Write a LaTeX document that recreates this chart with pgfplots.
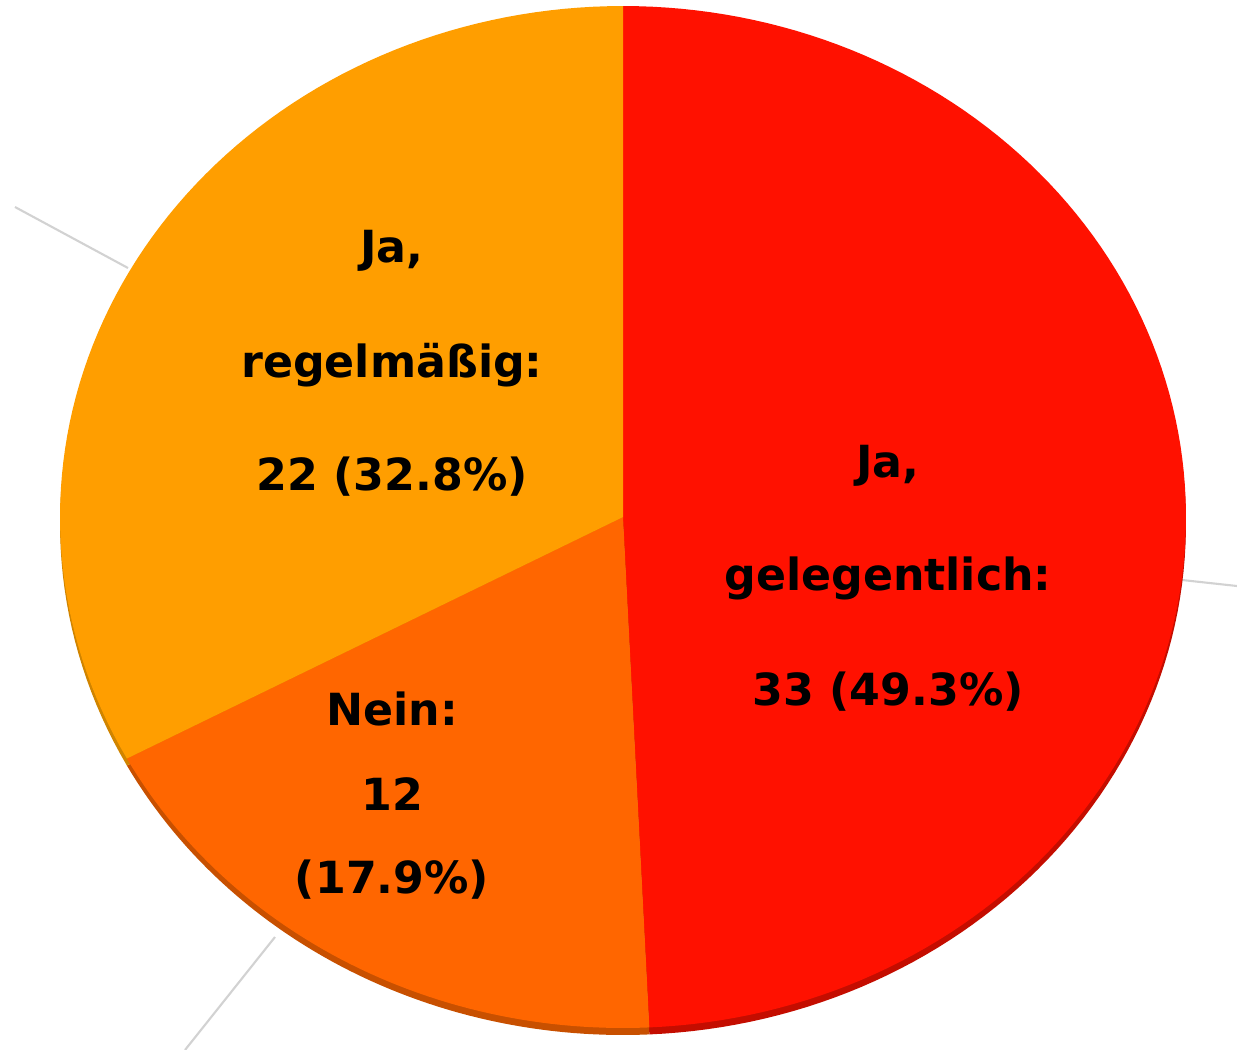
\documentclass[border=0pt]{standalone}
\usepackage{pgfplots}
\pgfplotsset{compat=1.18}
\usepackage{pgfplotstable}
\usepackage{fontspec}
\setmainfont{DejaVu Sans}
\definecolor{cGel}{HTML}{FF1100}
\definecolor{cGelD}{HTML}{C40D00}
\definecolor{cNein}{HTML}{FF6600}
\definecolor{cNeinD}{HTML}{C85000}
\definecolor{cReg}{HTML}{FF9E00}
\definecolor{cRegD}{HTML}{D08400}
\definecolor{cLead}{HTML}{D2D2D2}
\tikzset{lbl/.style={font=\bfseries\fontsize{12.6}{15}\selectfont, anchor=base, inner sep=0pt, text=black}}

% answers, counted clockwise from 12 o'clock
\pgfplotstableread{
answer value
gelegentlich 33
nein 12
regelmaessig 22
}\piedata
\pgfplotstablegetelem{0}{value}\of\piedata \let\vA\pgfplotsretval
\pgfplotstablegetelem{1}{value}\of\piedata \let\vB\pgfplotsretval
\pgfplotstablegetelem{2}{value}\of\piedata \let\vC\pgfplotsretval
\pgfmathsetmacro{\tot}{\vA+\vB+\vC}
\pgfmathsetmacro{\aO}{90}
\pgfmathsetmacro{\aA}{90-360*\vA/\tot}
\pgfmathsetmacro{\aB}{\aA-360*\vB/\tot}
\pgfmathsetmacro{\aC}{\aB-360*\vC/\tot}

\begin{document}
\begin{tikzpicture}
\begin{axis}[
  scale only axis, width=12.37cm, height=10.5cm,
  xmin=0, xmax=1237, ymin=0, ymax=1050, y dir=reverse,
  hide axis, clip=true,
]
% fix the picture's extent to the full axis area
\path (axis cs:0,0) rectangle (axis cs:1237,1050);
% leader lines
\addplot[cLead, line width=0.6pt] coordinates {(15,207) (128,268)};
\addplot[cLead, line width=0.6pt] coordinates {(1182,580) (1237,586)};
\addplot[cLead, line width=0.6pt] coordinates {(275,937) (185,1050)};
% rim (depth)
\addplot[fill=cGelD, draw=none, domain=\aA:\aO, samples=120, variable=\t]
  ({623+563*cos(\t)},{524-511*sin(\t)}) -- (axis cs:623,524) -- cycle;
\addplot[fill=cNeinD, draw=none, domain=\aB:\aA, samples=60, variable=\t]
  ({623+563*cos(\t)},{524-511*sin(\t)}) -- (axis cs:623,524) -- cycle;
\addplot[fill=cRegD, draw=none, domain=\aC:\aB, samples=80, variable=\t]
  ({623+563*cos(\t)},{524-511*sin(\t)}) -- (axis cs:623,524) -- cycle;
% top faces
\addplot[fill=cGel, draw=none, domain=\aA:\aO, samples=120, variable=\t]
  ({623+563*cos(\t)},{517-511*sin(\t)}) -- (axis cs:623,517) -- cycle;
\addplot[fill=cNein, draw=none, domain=\aB:\aA, samples=60, variable=\t]
  ({623+563*cos(\t)},{517-511*sin(\t)}) -- (axis cs:623,517) -- cycle;
\addplot[fill=cReg, draw=none, domain=\aC:\aB, samples=80, variable=\t]
  ({623+563*cos(\t)},{517-511*sin(\t)}) -- (axis cs:623,517) -- cycle;
% labels
\node[lbl] at (axis cs:392,262) {Ja,};
\node[lbl] at (axis cs:392,377) {regelmäßig:};
\node[lbl] at (axis cs:392,490) {22 (32.8\%)};
\node[lbl] at (axis cs:888,477) {Ja,};
\node[lbl] at (axis cs:888,590) {gelegentlich:};
\node[lbl] at (axis cs:888,705) {33 (49.3\%)};
\node[lbl] at (axis cs:392,725) {Nein:};
\node[lbl] at (axis cs:392,810) {12};
\node[lbl] at (axis cs:392,893) {(17.9\%)};
\end{axis}
\end{tikzpicture}
\end{document}
